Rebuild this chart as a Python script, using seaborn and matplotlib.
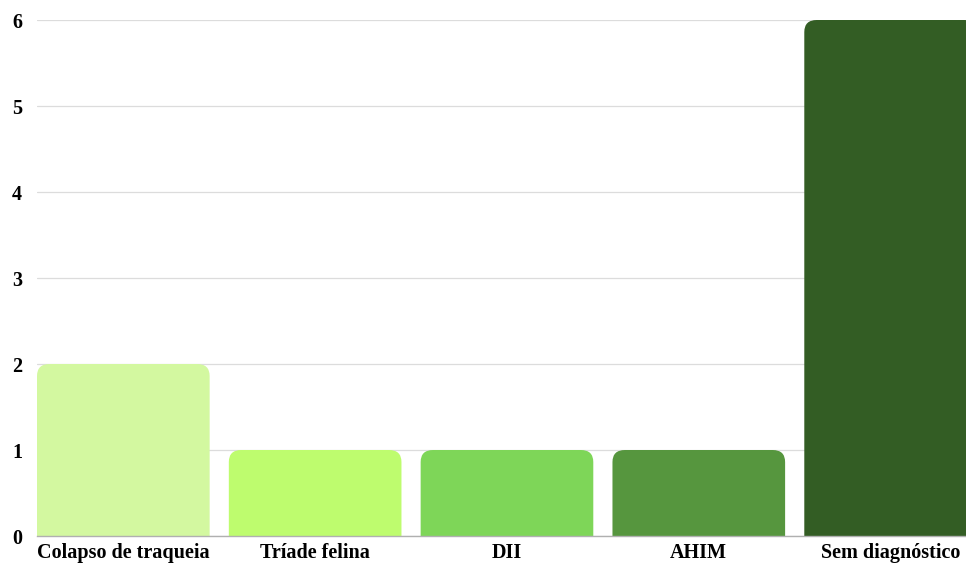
import matplotlib
matplotlib.use("Agg")
import matplotlib.pyplot as plt
import seaborn as sns
import pandas as pd
from matplotlib.path import Path
from matplotlib.patches import PathPatch

categories = ["Colapso de traqueia", "Tríade felina", "DII", "AHIM", "Sem diagnóstico"]
values = [2, 1, 1, 1, 6]
colors = ["#d3f8a0", "#befc6e", "#7ed658", "#56963e", "#335d24"]
yticks = [0, 1, 2, 3, 4, 5, 6]

sns.set_theme(style="white")
plt.rcParams['font.family'] = ['Liberation Serif', 'DejaVu Serif']

df = pd.DataFrame({"cat": categories, "val": values})
fig = plt.figure(figsize=(9.66, 5.66), dpi=100)
ax = fig.add_axes([37/966, 30/566, 1 - 37/966, 516/566])
sns.barplot(data=df, x="cat", y="val", hue="cat", palette=colors, legend=False,
            width=0.9, ax=ax, saturation=1)

rx, ry = 0.065, 0.14
for p, c in zip(list(ax.patches), colors):
    x0 = p.get_x(); w = p.get_width(); h = p.get_height(); x1 = x0 + w
    p.set_visible(False)
    verts = [(x0, 0), (x0, h - ry), (x0, h), (x0 + rx, h), (x1 - rx, h), (x1, h), (x1, h - ry), (x1, 0), (x0, 0)]
    codes = [Path.MOVETO, Path.LINETO, Path.CURVE3, Path.CURVE3, Path.LINETO, Path.CURVE3, Path.CURVE3, Path.LINETO, Path.CLOSEPOLY]
    ax.add_patch(PathPatch(Path(verts, codes), facecolor=c, edgecolor="none", zorder=3))

ax.set_xlim(-0.45, 4.393)
ax.set_ylim(0, 6)
ax.set_yticks(yticks)
ax.set_yticklabels([str(t) for t in yticks])
ax.yaxis.grid(True, color="#dcdcdc", linewidth=0.9, zorder=0)
ax.set_axisbelow(True)
for s in ["top", "right", "left"]:
    ax.spines[s].set_visible(False)
ax.spines["bottom"].set_color("#b0b0b0")
ax.spines["bottom"].set_linewidth(1.0)
ax.spines["bottom"].set_zorder(4)
ax.set_xlabel("")
ax.set_ylabel("")
ax.tick_params(axis="both", length=0, labelsize=14.5, colors="black")
ax.tick_params(axis="x", pad=5)
for lab in ax.get_xticklabels() + ax.get_yticklabels():
    lab.set_fontweight("bold")
for lab in ax.get_yticklabels():
    lab.set_horizontalalignment("left")
ax.yaxis.set_tick_params(pad=18)

fig.savefig("out.png", dpi=100, facecolor="white")
